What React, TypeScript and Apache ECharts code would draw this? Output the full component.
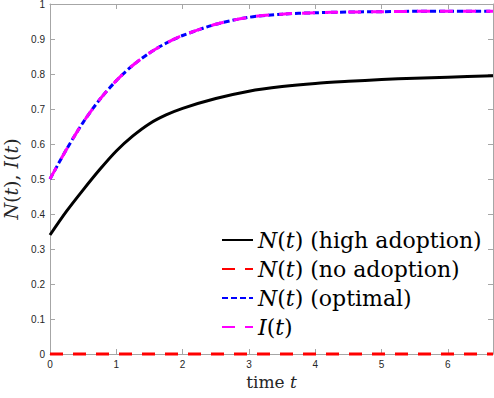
import React, { useEffect, useRef } from "react";
import * as echarts from "echarts";

const tValues = [0, 0.25, 0.5, 0.75, 1, 1.25, 1.5, 1.75, 2, 2.5, 3, 3.5, 4, 4.5, 5, 5.5, 6, 6.68];
const highAdoption = [0.34, 0.408, 0.469, 0.527, 0.58, 0.623, 0.658, 0.683, 0.702, 0.73, 0.751, 0.764, 0.773, 0.779, 0.784, 0.788, 0.791, 0.795];
const noAdoption = [0, 0, 0, 0, 0, 0, 0, 0, 0, 0, 0, 0, 0, 0, 0, 0, 0, 0];
const optimal = [0.5, 0.585, 0.662, 0.727, 0.781, 0.825, 0.86, 0.888, 0.91, 0.942, 0.962, 0.971, 0.975, 0.977, 0.978, 0.979, 0.979, 0.979];
const infected = [0.5, 0.585, 0.662, 0.727, 0.781, 0.825, 0.86, 0.888, 0.91, 0.942, 0.962, 0.971, 0.975, 0.977, 0.978, 0.979, 0.979, 0.979];

const seriesNames = ["N(t) (high adoption)", "N(t) (no adoption)", "N(t) (optimal)", "I(t)"];
const legendLabels: Record<string, string> = {
  "N(t) (high adoption)": "{i|N}({i|t}) (high adoption)",
  "N(t) (no adoption)": "{i|N}({i|t}) (no adoption)",
  "N(t) (optimal)": "{i|N}({i|t}) (optimal)",
  "I(t)": "{i|I}({i|t})",
};

const SERIF = "DejaVu Serif";
const SANS = "Liberation Sans";
const AXIS_COLOR = "#a6a6a6";
const LABEL_COLOR = "#262626";

const pair = (ys: number[]) => tValues.map((t, i) => [t, ys[i]]);

export default function App() {
  const ref = useRef<HTMLDivElement>(null);
  useEffect(() => {
    if (!ref.current) return;
    const chart = echarts.init(ref.current, undefined, { renderer: "svg" });
    const tickCommon = { show: true, inside: true, length: 5, lineStyle: { color: AXIS_COLOR } };
    chart.setOption({
      animation: false,
      backgroundColor: "#fff",
      grid: { left: 50, right: 1, top: 4, bottom: 44, containLabel: false, outerBoundsMode: "none" },
      xAxis: [
        {
          type: "value",
          min: 0,
          max: 6.68,
          interval: 1,
          name: "time {i|t}",
          nameLocation: "middle",
          nameGap: 18,
          nameTextStyle: {
            fontFamily: SERIF,
            fontSize: 17,
            color: LABEL_COLOR,
            verticalAlign: "top",
            rich: { i: { fontFamily: SERIF, fontStyle: "italic", fontSize: 17, color: LABEL_COLOR } },
          },
          axisLine: { show: true, onZero: false, lineStyle: { color: AXIS_COLOR, width: 1 } },
          axisTick: tickCommon,
          splitLine: { show: false },
          axisLabel: {
            fontFamily: SANS,
            fontSize: 10,
            color: LABEL_COLOR,
            margin: 5,
            formatter: (v: number) => (Math.abs(v - Math.round(v)) < 1e-9 ? String(Math.round(v)) : ""),
          },
        },
        {
          type: "value",
          position: "top",
          min: 0,
          max: 6.68,
          interval: 1,
          axisLine: { show: true, onZero: false, lineStyle: { color: AXIS_COLOR, width: 1 } },
          axisTick: tickCommon,
          axisLabel: { show: false },
          splitLine: { show: false },
        },
      ],
      yAxis: [
        {
          type: "value",
          min: 0,
          max: 1,
          interval: 0.1,
          name: "{i|N}({i|t}), {i|I}({i|t})",
          nameLocation: "middle",
          nameGap: 26,
          nameTextStyle: {
            fontFamily: SERIF,
            fontSize: 19,
            color: LABEL_COLOR,
            rich: { i: { fontFamily: SERIF, fontStyle: "italic", fontSize: 19, color: LABEL_COLOR } },
          },
          axisLine: { show: true, onZero: false, lineStyle: { color: AXIS_COLOR, width: 1 } },
          axisTick: tickCommon,
          splitLine: { show: false },
          axisLabel: {
            fontFamily: SANS,
            fontSize: 10,
            color: LABEL_COLOR,
            margin: 5,
            formatter: (v: number) => String(Math.round(v * 10) / 10),
          },
        },
        {
          type: "value",
          position: "right",
          min: 0,
          max: 1,
          interval: 0.1,
          axisLine: { show: true, onZero: false, lineStyle: { color: AXIS_COLOR, width: 1 } },
          axisTick: tickCommon,
          axisLabel: { show: false },
          splitLine: { show: false },
        },
      ],
      legend: {
        orient: "vertical",
        left: 221,
        top: 229,
        padding: 0,
        itemWidth: 31,
        itemHeight: 14,
        itemGap: 7,
        data: seriesNames,
        itemStyle: { opacity: 0 },
        formatter: (name: string) => legendLabels[name] ?? name,
        textStyle: {
          fontFamily: SERIF,
          fontSize: 22,
          lineHeight: 22,
          color: "#000",
          rich: { i: { fontFamily: SERIF, fontStyle: "italic", fontSize: 22, lineHeight: 22, color: "#000" } },
        },
      },
      series: [
        {
          name: seriesNames[0],
          type: "line",
          data: pair(highAdoption),
          smooth: 0.3,
          showSymbol: false,
          symbol: "none",
          clip: false,
          lineStyle: { color: "#000", width: 3 },
          itemStyle: { color: "#000" },
          z: 3,
        },
        {
          name: seriesNames[1],
          type: "line",
          data: pair(noAdoption),
          showSymbol: false,
          symbol: "none",
          clip: false,
          lineStyle: { color: "#ff0000", width: 3, type: [13, 10] },
          itemStyle: { color: "#ff0000" },
          z: 5,
        },
        {
          name: seriesNames[2],
          type: "line",
          data: pair(optimal),
          smooth: 0.3,
          showSymbol: false,
          symbol: "none",
          clip: false,
          lineStyle: { color: "#0000ff", width: 3, type: [6, 3] },
          itemStyle: { color: "#0000ff" },
          z: 3,
        },
        {
          name: seriesNames[3],
          type: "line",
          data: pair(infected),
          smooth: 0.3,
          showSymbol: false,
          symbol: "none",
          clip: false,
          lineStyle: { color: "#ff00ff", width: 3, type: [13, 10] },
          itemStyle: { color: "#ff00ff" },
          z: 4,
        },
      ],
    });
    return () => chart.dispose();
  }, []);
  return (
    <div
      ref={ref}
      style={{ position: "absolute", left: 0, top: 0, width: 494, height: 398 }}
    />
  );
}
